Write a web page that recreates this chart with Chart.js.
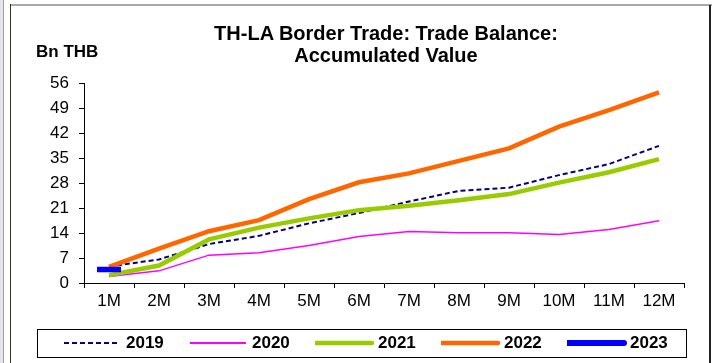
<!DOCTYPE html>
<html>
<head>
<meta charset="utf-8">
<script src="https://cdn.jsdelivr.net/npm/chart.js@4"></script>
<style>
  body { margin: 0; background: #fff; font-family: "Liberation Sans", Arial, sans-serif; }
  #wrap { position: relative; width: 712px; height: 363px; overflow: hidden; }
  #grafico { position: absolute; left: 0; top: 0; }
  .linha { position: absolute; }
  .titulo { position: absolute; left: 136px; width: 500px; text-align: center; font-weight: bold; font-size: 20px; color: #000; }
  #unidade { position: absolute; left: 36px; top: 42px; font-weight: bold; font-size: 17px; }
  #legenda { position: absolute; left: 37px; top: 329px; width: 648px; height: 27px; border: 1px solid #000; }
  .item { position: absolute; top: 0; height: 27px; }
  .item svg { position: absolute; top: 8px; left: 0; }
  .item span { position: absolute; top: 3px; font-weight: bold; font-size: 17px; }
</style>
</head>
<body>
<div id="wrap">
  <div class="linha" style="left:0;top:0;width:3px;height:363px;background:#e4e4ec"></div>
  <div class="linha" style="left:3px;top:0;width:1px;height:363px;background:#a0a0a0"></div>
  <div class="linha" style="left:10px;top:4px;width:702px;height:2px;background:#a8a8a8"></div>
  <div class="linha" style="left:10px;top:4px;width:1px;height:359px;background:#333"></div>
  <div class="linha" style="left:709px;top:5px;width:2px;height:358px;background:#222"></div>
  <canvas id="grafico" width="712" height="363"></canvas>
  <div class="titulo" style="top:22px">TH-LA Border Trade: Trade Balance:</div>
  <div class="titulo" style="top:44px">Accumulated Value</div>
  <div id="unidade">Bn THB</div>
  <div id="legenda"></div>
</div>
<script>
// Meses e ticks do eixo
const meses = ["1M", "2M", "3M", "4M", "5M", "6M", "7M", "8M", "9M", "10M", "11M", "12M"];
const ticksY = [0, 7, 14, 21, 28, 35, 42, 49, 56];

// Saldo acumulado (bilhões de baht)
const ano2019 = [4.6, 6.6, 10.9, 13.2, 16.7, 19.6, 22.8, 25.8, 26.7, 30.2, 33.3, 38.4];
const ano2020 = [1.8, 3.4, 7.8, 8.5, 10.5, 13.0, 14.4, 14.1, 14.1, 13.6, 15.0, 17.4];
const ano2021 = [2.2, 4.9, 12.2, 15.5, 18.1, 20.4, 21.6, 23.2, 24.9, 28.1, 31.0, 34.7];
const ano2022 = [4.5, 9.6, 14.5, 17.6, 23.5, 28.2, 30.7, 34.2, 37.7, 43.8, 48.4, 53.4];
const ano2023 = [3.8];

const series = [
  { label: "2019", data: ano2019, cor: "#000080", largura: 2, tracejado: [5, 3], ordem: 5 },
  { label: "2020", data: ano2020, cor: "#ff00ff", largura: 1.5, tracejado: [], ordem: 4 },
  { label: "2021", data: ano2021, cor: "#99cc00", largura: 4.5, tracejado: [], ordem: 3 },
  { label: "2022", data: ano2022, cor: "#ff6600", largura: 4.5, tracejado: [], ordem: 2 },
  { label: "2023", data: ano2023, cor: "#0000ff", largura: 5, tracejado: [], ordem: 1 }
];

const fonte = { family: "'Liberation Sans', Arial, sans-serif", size: 17 };

new Chart(document.getElementById("grafico"), {
  type: "line",
  data: {
    labels: meses,
    datasets: series.map(s => ({
      label: s.label,
      data: s.data,
      borderColor: s.cor,
      backgroundColor: s.cor,
      borderWidth: s.largura,
      borderDash: s.tracejado,
      order: s.ordem,
      tension: 0,
      // 2023 só tem um mês: desenhado como um traço curto
      pointStyle: s.data.length === 1 ? "line" : "circle",
      pointRadius: s.data.length === 1 ? 12 : 0,
      pointBorderWidth: s.data.length === 1 ? 5.5 : 0,
      pointBorderColor: s.cor
    }))
  },
  options: {
    responsive: false,
    animation: false,
    layout: { padding: { left: 0, right: 28, top: 83, bottom: 0 } },
    plugins: { legend: { display: false }, tooltip: { enabled: false } },
    scales: {
      x: {
        offset: true,
        grid: { display: true, drawOnChartArea: false, offset: true, tickLength: 5, color: "#000" },
        border: { color: "#000" },
        ticks: { color: "#000", font: fonte, padding: 3, maxRotation: 0 },
        afterFit: scale => { scale.height = 80; }
      },
      y: {
        min: 0,
        max: 56,
        grid: { display: true, drawOnChartArea: false, tickLength: 5, color: "#000" },
        border: { color: "#000" },
        afterBuildTicks: scale => { scale.ticks = ticksY.map(v => ({ value: v })); },
        ticks: { color: "#000", font: fonte, padding: 10 },
        afterFit: scale => { scale.width = 84; }
      }
    }
  }
});

// Legenda em caixa embaixo do gráfico
const legenda = document.getElementById("legenda");
const posX = [25, 151, 277, 403, 529];
series.forEach((s, i) => {
  const item = document.createElement("div");
  item.className = "item";
  item.style.left = posX[i] + "px";
  const dash = s.tracejado.length ? s.tracejado.join(",") : "none";
  const w = Math.max(s.largura, 2) + (s.label === "2023" ? 1 : 0);
  item.innerHTML =
    '<svg width="60" height="10"><line x1="1" y1="5" x2="57" y2="5" stroke="' + s.cor +
    '" stroke-width="' + w + '" stroke-dasharray="' + dash + '" stroke-linecap="' +
    (s.largura > 3 ? "round" : "butt") + '"/></svg>' +
    '<span style="left:63px">' + s.label + '</span>';
  legenda.appendChild(item);
});
</script>
</body>
</html>
